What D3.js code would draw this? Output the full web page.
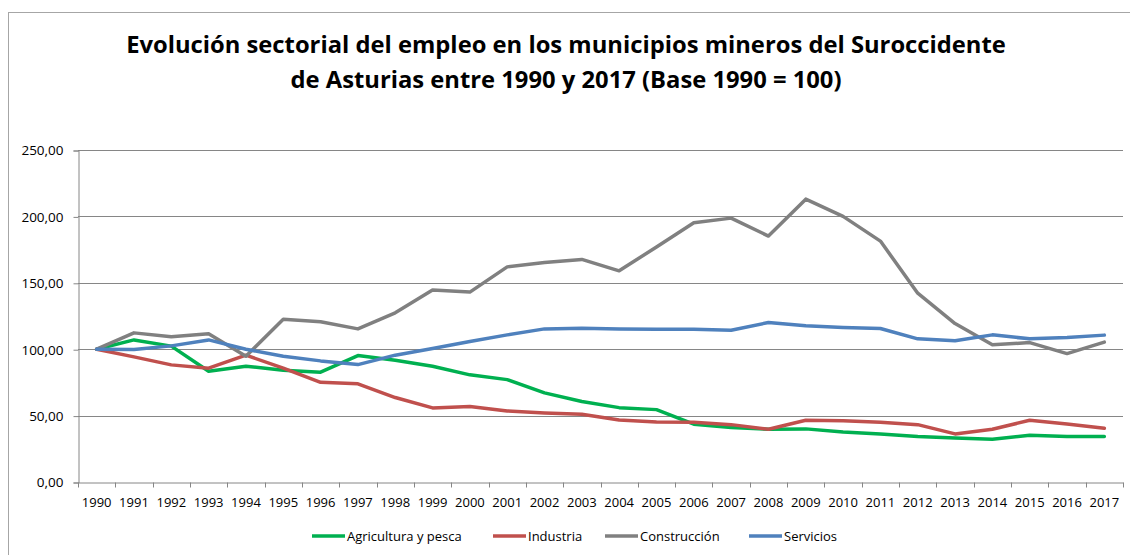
<!DOCTYPE html>
<html>
<head>
<meta charset="utf-8">
<script src="https://cdn.jsdelivr.net/npm/d3@7"></script>
<style>
  html, body { margin: 0; padding: 0; background: #fff; }
  svg { display: block; font-family: "Open Sans", sans-serif; }
</style>
</head>
<body>
<script>
// Data (Base 1990 = 100)
const years = ['1990','1991','1992','1993','1994','1995','1996','1997','1998','1999',
  '2000','2001','2002','2003','2004','2005','2006','2007','2008','2009',
  '2010','2011','2012','2013','2014','2015','2016','2017'];

const agricultura = [100, 107.0, 102.3, 83.4, 87.2, 84.2, 82.7, 95.2, 91.7, 87.2,
  80.7, 77.1, 67.1, 60.6, 56.0, 54.5, 43.5, 41.0, 39.7, 40.0,
  37.7, 36.2, 34.2, 33.2, 32.2, 35.2, 34.2, 34.2];

const industria = [100, 94.2, 88.2, 85.7, 95.5, 85.7, 75.1, 73.9, 63.6, 55.8,
  56.8, 53.5, 52.0, 51.0, 46.7, 45.2, 45.0, 43.2, 39.7, 46.5,
  46.2, 45.0, 43.2, 36.2, 39.7, 46.5, 43.7, 40.5];

const construccion = [100, 112.3, 109.3, 111.6, 94.7, 122.6, 120.6, 115.3, 127.4, 144.5,
  143.0, 162.0, 165.3, 167.6, 159.0, 177.0, 195.2, 198.7, 185.2, 213.0,
  200.0, 181.4, 142.2, 119.3, 103.3, 105.0, 96.7, 105.3];

const servicios = [100, 99.7, 102.5, 107.0, 100.0, 94.7, 91.2, 88.4, 95.5, 100.5,
  105.8, 110.8, 115.3, 115.8, 115.3, 115.1, 115.1, 114.3, 120.1, 117.6,
  116.3, 115.6, 107.8, 106.3, 110.8, 107.8, 108.8, 110.6];

const seriesNames = ['Agricultura y pesca', 'Industria', 'Construcción', 'Servicios'];
const seriesColors = ['#00B050', '#C0504D', '#808080', '#4F81BD'];
const yTicks = [0, 50, 100, 150, 200, 250];

const titleLines = [
  'Evolución sectorial del empleo en los municipios mineros del Suroccidente',
  'de Asturias entre 1990 y 2017 (Base 1990 = 100)'
];

const series = [agricultura, industria, construccion, servicios].map((values, i) => ({
  name: seriesNames[i],
  color: seriesColors[i],
  values: values
}));

// Layout
const width = 1130;
const height = 555;
const plot = { left: 78, right: 1123, top: 150, bottom: 482 };

const svg = d3.select('body')
  .append('svg')
  .attr('width', width)
  .attr('height', height);

// Chart frame (runs past the right and bottom edges in the reference)
svg.append('rect')
  .attr('x', 8.5)
  .attr('y', 12.5)
  .attr('width', width + 20)
  .attr('height', height + 20)
  .attr('fill', 'none')
  .attr('stroke', '#A6A6A6')
  .attr('stroke-width', 1);

// Title, fitted to the reference width of the first line
const title = svg.append('g').attr('class', 'title');
const titleY = [53, 88];
titleLines.forEach((line, i) => {
  title.append('text')
    .attr('x', 566)
    .attr('y', titleY[i])
    .attr('text-anchor', 'middle')
    .style('font-weight', 'bold')
    .style('font-size', '24px')
    .style('fill', '#000')
    .text(line);
});
const firstLen = title.select('text').node().getComputedTextLength();
title.selectAll('text').style('font-size', (24 * 880 / firstLen) + 'px');

// Scales
const x = d3.scaleBand()
  .domain(years)
  .range([plot.left, plot.right])
  .padding(0);

const y = d3.scaleLinear()
  .domain([0, 250])
  .range([plot.bottom, plot.top]);

const cx = d => x(d) + x.bandwidth() / 2;

// Gridlines
svg.append('g')
  .attr('class', 'grid')
  .selectAll('line')
  .data(yTicks.filter(d => d > 0))
  .enter()
  .append('line')
  .attr('x1', plot.left)
  .attr('x2', plot.right)
  .attr('y1', d => Math.round(y(d)) + 0.5)
  .attr('y2', d => Math.round(y(d)) + 0.5)
  .attr('stroke', '#868686')
  .attr('stroke-width', 1);

// Y axis
const yAxis = d3.axisLeft(y)
  .tickValues(yTicks)
  .tickSize(5)
  .tickPadding(10)
  .tickFormat(d => d3.format('.2f')(d).replace('.', ','));

const yAxisG = svg.append('g')
  .attr('transform', `translate(${plot.left + 0.5},0.5)`)
  .call(yAxis);
yAxisG.select('.domain').attr('stroke', '#868686');
yAxisG.selectAll('.tick line').attr('stroke', '#868686');
yAxisG.selectAll('.tick text')
  .style('font-size', '13.5px')
  .style('font-family', '"Open Sans", sans-serif')
  .attr('fill', '#000');

// X axis: labels centred in each band, ticks on band boundaries
const xAxis = d3.axisBottom(x).tickSize(0).tickPadding(15);
const xAxisG = svg.append('g')
  .attr('transform', `translate(0,${Math.round(y(0)) + 0.5})`)
  .call(xAxis);
xAxisG.select('.domain').attr('stroke', '#868686');
xAxisG.selectAll('.tick text')
  .style('font-size', '13px')
  .style('font-family', '"Open Sans", sans-serif')
  .attr('fill', '#000');

const boundaries = years.map(d => x(d)).concat([x.range()[1]]);
xAxisG.selectAll('.bound')
  .data(boundaries)
  .enter()
  .append('line')
  .attr('class', 'bound')
  .attr('x1', d => Math.round(d) + 0.5)
  .attr('x2', d => Math.round(d) + 0.5)
  .attr('y1', 0)
  .attr('y2', 5)
  .attr('stroke', '#868686');

// Lines
const line = d3.line()
  .x((d, i) => cx(years[i]))
  .y(d => y(d));

svg.append('g')
  .attr('class', 'series')
  .selectAll('path')
  .data(series)
  .enter()
  .append('path')
  .attr('d', d => line(d.values))
  .attr('fill', 'none')
  .attr('stroke', d => d.color)
  .attr('stroke-width', 3.5)
  .attr('stroke-linejoin', 'round')
  .attr('stroke-linecap', 'round');

// Legend
const legendX = [312, 493, 605, 749];
const legend = svg.append('g')
  .attr('class', 'legend')
  .selectAll('g')
  .data(series)
  .enter()
  .append('g')
  .attr('transform', (d, i) => `translate(${legendX[i]},536)`);

legend.append('line')
  .attr('x1', 0)
  .attr('x2', 33)
  .attr('y1', 0)
  .attr('y2', 0)
  .attr('stroke', d => d.color)
  .attr('stroke-width', 3.5);

legend.append('text')
  .attr('x', 35)
  .attr('y', 0)
  .attr('dy', '0.35em')
  .style('font-size', '13px')
  .attr('fill', '#000')
  .text(d => d.name);
</script>
</body>
</html>
